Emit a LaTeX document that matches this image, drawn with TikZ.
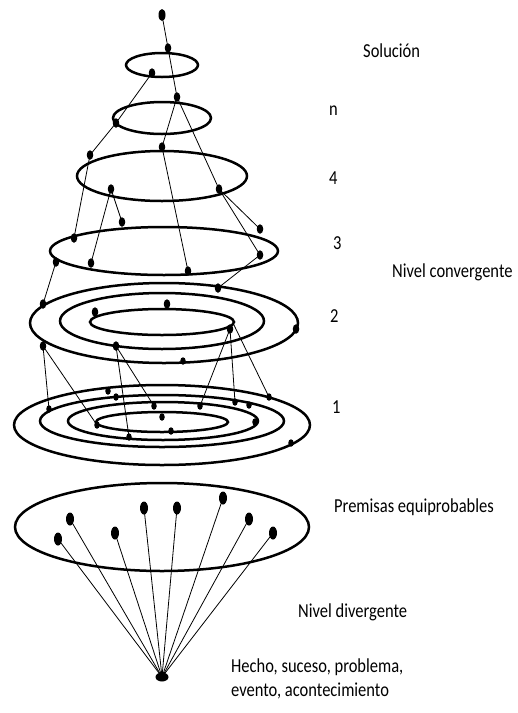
\documentclass[tikz,border=0pt]{standalone}
\usepackage{fontspec}
\setmainfont{Carlito}
\usetikzlibrary{shapes.geometric}
\newcommand\talltext[1]{\scalebox{1}[1.2]{#1}}
\begin{document}
\begin{tikzpicture}[x=1pt,y=-1pt,
 ring/.style={line width=2.5pt},
 link/.style={line width=0.8pt},
 dot/.style={ellipse,fill=black,inner sep=0pt,minimum width=6.5pt,minimum height=9.5pt},
 sdot/.style={ellipse,fill=black,inner sep=0pt,minimum width=5.5pt,minimum height=7.5pt},
 pdot/.style={ellipse,fill=black,inner sep=0pt,minimum width=8pt,minimum height=13pt},
 lab/.style={font=\fontsize{16.5}{20}\selectfont,inner sep=0pt,anchor=west}]
\useasboundingbox (0,0) rectangle (518,713);
\fill[white] (0,0) rectangle (518,713);

% rings
\draw[ring] (162,65) ellipse [x radius=36pt, y radius=12pt];
\draw[ring] (162,118) ellipse [x radius=49pt, y radius=16pt];
\draw[ring] (162,176) ellipse [x radius=85pt, y radius=25pt];
\draw[ring] (164,251) ellipse [x radius=114pt, y radius=24pt];
\draw[ring] (164,323) ellipse [x radius=134pt, y radius=40pt];
\draw[ring] (162,321) ellipse [x radius=102pt, y radius=28pt];
\draw[ring] (162,322) ellipse [x radius=72pt, y radius=13pt];
\draw[ring] (162,425) ellipse [x radius=148pt, y radius=40pt];
\draw[ring] (162,421) ellipse [x radius=122pt, y radius=26pt];
\draw[ring] (163,421) ellipse [x radius=95pt, y radius=19pt];
\draw[ring] (162,422) ellipse [x radius=66pt, y radius=10pt];
\draw[ring] (162,527) ellipse [x radius=147pt, y radius=44pt];

% dots
\node[dot,minimum width=7pt,minimum height=12pt] (T) at (162,15) {};
\node[dot] (s1) at (168,48) {};
\node[dot] (s2) at (152,73) {};
\node[dot] (n1) at (177,97) {};
\node[dot] (n2) at (116,123) {};
\node[dot] (f1) at (90,155) {};
\node[dot] (f2) at (162,147) {};
\node[dot] (f3) at (111,189) {};
\node[dot] (f4) at (219,189) {};
\node[dot] (t1) at (122,222) {};
\node[dot] (t2) at (74,238) {};
\node[dot] (t3) at (91,263) {};
\node[dot] (t4) at (188,271) {};
\node[dot] (t5) at (260,229) {};
\node[dot] (t6) at (260,255) {};
\node[dot] (t7) at (56,262) {};
\node[dot] (w1) at (218,288) {};
\node[dot] (w2) at (43,304) {};
\node[dot] (w3) at (95,312) {};
\node[dot] (w4) at (167,304) {};
\node[dot] (w5) at (230,329) {};
\node[dot] (w6) at (296,329) {};
\node[dot] (w7) at (43,346) {};
\node[dot] (w8) at (116,346) {};
\node[sdot] (w9) at (183,361) {};
\coordinate (wend) at (233,323);
\node[sdot] (o1) at (49,409) {};
\node[sdot] (o2) at (108,391) {};
\node[sdot] (o3) at (116,397) {};
\node[sdot] (o4) at (154,406) {};
\node[sdot] (o5) at (200,406) {};
\node[sdot] (o6) at (235,402) {};
\node[sdot] (o7) at (249,405) {};
\node[sdot] (o8) at (269,397) {};
\node[sdot] (o9) at (162,417) {};
\node[sdot] (o10) at (97,425) {};
\node[sdot] (o11) at (255,422) {};
\node[sdot] (o12) at (171,431) {};
\node[sdot] (o13) at (129,437) {};
\node[sdot] (o14) at (291,443) {};
\node[pdot] (p1) at (58,539) {};
\node[pdot] (p2) at (70,519) {};
\node[pdot] (p3) at (115,533) {};
\node[pdot] (p4) at (144,508) {};
\node[pdot] (p5) at (177,508) {};
\node[pdot] (p6) at (223,498) {};
\node[pdot] (p7) at (249,519) {};
\node[pdot] (p8) at (273,533) {};
\node[dot,minimum width=13pt,minimum height=9pt] (B) at (162,677) {};

% links
\draw[link] (T.center) -- (s1.center) -- (n1.center);
\draw[link] (s2.center) -- (n2.center) -- (f1.center);
\draw[link] (n1.center) -- (f2.center);
\draw[link] (n1.center) -- (f4.center);
\draw[link] (f2.center) -- (t4.center);
\draw[link] (f1.center) -- (t2.center);
\draw[link] (f3.center) -- (t3.center);
\draw[link] (f3.center) -- (t1.center);
\draw[link] (f4.center) -- (t5.center);
\draw[link] (f4.center) -- (t6.center);
\draw[link] (t6.center) -- (w1.center);
\draw[link] (t7.center) -- (w2.center);
\draw[link] (w7.center) -- (o1.center);
\draw[link] (w7.center) -- (o10.center);
\draw[link] (w8.center) -- (o13.center);
\draw[link] (w8.center) -- (o4.center);
\draw[link] (w5.center) -- (o5.center);
\draw[link] (w5.center) -- (o6.center);
\draw[link] (wend) -- (o8.center);
\foreach \p in {p1,p2,p3,p4,p5,p6,p7,p8}
  \draw[link] (\p.center) -- (B.center);

% labels
\node[lab] (lsol) at (363,51) {\talltext{Solución}};
\node[lab] (ln) at (329,111) {\talltext{n}};
\node[lab] (l4) at (329,178) {\talltext{4}};
\node[lab] (l3) at (333,243) {\talltext{3}};
\node[lab] (lconv) at (392,272) {\talltext{Nivel convergente}};
\node[lab] (l2) at (330,316) {\talltext{2}};
\node[lab] (l1) at (332,407) {\talltext{1}};
\node[lab] (lprem) at (334,507) {\talltext{Premisas equiprobables}};
\node[lab] (ldiv) at (298,612) {\talltext{Nivel divergente}};
\node[lab] (lhecho) at (231,680) {\talltext{\begin{tabular}{@{}l@{}}Hecho, suceso, problema,\\evento, acontecimiento\end{tabular}}};
\end{tikzpicture}
\end{document}
